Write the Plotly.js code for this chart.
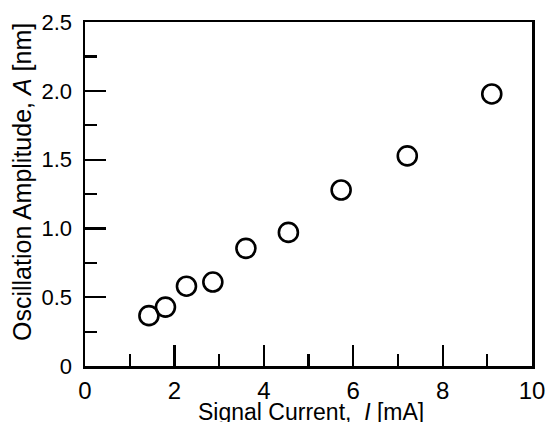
<!DOCTYPE html>
<html>
<head>
<meta charset="utf-8">
<script src="https://cdn.plot.ly/plotly-3.0.1.min.js"></script>
<style>html,body{margin:0;padding:0;background:#fff}</style>
</head>
<body>
<div id="chart" style="width:547px;height:422px"></div>
<script>
const current = [1.43, 1.80, 2.27, 2.86, 3.60, 4.55, 5.73, 7.21, 9.10];
const amplitude = [0.366, 0.428, 0.580, 0.610, 0.855, 0.971, 1.279, 1.527, 1.977];
const yTickVals = [0, 0.5, 1.0, 1.5, 2.0, 2.5];
const yTickText = ['0', '0.5', '1.0', '1.5', '2.0', '2.5'];
const xTickVals = [0, 2, 4, 6, 8, 10];
const xTickText = ['0', '2', '4', '6', '8', '10'];
const xTitle = 'Signal Current,  <i>I</i> [mA]';
const yTitle = 'Oscillation Amplitude, <i>A</i> [nm]';

const font = 'Liberation Sans, Arial, sans-serif';
const W = 547, H = 422, L = 85, R = 15, T = 22, B = 56;
const pw = W - L - R, ph = H - T - B;
Plotly.newPlot('chart', [{
  x: current, y: amplitude, type: 'scatter', mode: 'markers',
  marker: {symbol: 'circle-open', size: 19, color: 'black', line: {width: 2.6, color: 'black'}},
  showlegend: false
}], {
  width: W, height: H,
  margin: {l: L, r: R, t: T, b: B},
  paper_bgcolor: '#fff', plot_bgcolor: '#fff',
  font: {family: font, size: 22, color: '#000'},
  xaxis: {
    range: [0, 10], showgrid: false, zeroline: false,
    showline: true, linecolor: '#000', linewidth: 2.5, mirror: true,
    ticks: 'inside', ticklen: 21, tickwidth: 2.2, tickcolor: '#000',
    tickvals: xTickVals, ticktext: xTickText,
    minor: {dtick: 1, ticks: 'inside', ticklen: 12, tickwidth: 2.2, tickcolor: '#000', showgrid: false},
    tickfont: {size: 24}, ticklabelstandoff: 2
  },
  yaxis: {
    range: [0, 2.5], showgrid: false, zeroline: false,
    showline: true, linecolor: '#000', linewidth: 2.5, mirror: true,
    ticks: 'inside', ticklen: 21, tickwidth: 2.2, tickcolor: '#000',
    tickvals: yTickVals, ticktext: yTickText,
    minor: {dtick: 0.25, ticks: 'inside', ticklen: 12, tickwidth: 2.2, tickcolor: '#000', showgrid: false},
    tickfont: {size: 22}, ticklabelstandoff: 6
  },
  annotations: [
    {text: xTitle, xref: 'paper', yref: 'paper', x: (311 - L) / pw, y: (H - B - 412) / ph,
     xanchor: 'center', yanchor: 'middle', showarrow: false, font: {size: 23}},
    {text: yTitle, xref: 'paper', yref: 'paper', x: (22 - L) / pw, y: (H - B - 182) / ph,
     xanchor: 'center', yanchor: 'middle', textangle: -90, showarrow: false, font: {size: 25}}
  ]
}, {displayModeBar: false, staticPlot: true});
</script>
</body>
</html>
